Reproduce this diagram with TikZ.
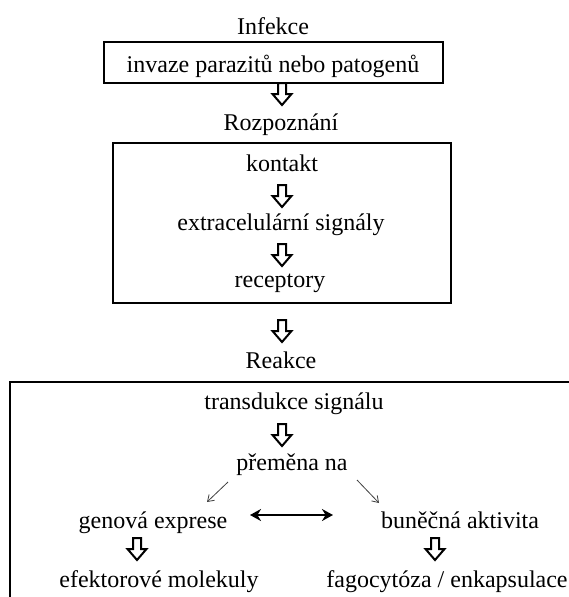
\documentclass[tikz,border=0pt]{standalone}
\usepackage{fontspec}
\setmainfont{Liberation Serif}
\usetikzlibrary{arrows.meta}
\begin{document}
\begin{tikzpicture}[x=1pt,y=-1pt,
  lbl/.style={font=\fontsize{24}{28}\selectfont, inner sep=0pt, anchor=base},
  frame/.style={draw, line width=2.6pt, inner sep=0pt},
  hollow/.pic={\draw[line width=2pt, line join=miter] (-4,0) -- (-4,11) -- (-9.5,11) -- (0,22) -- (9.5,11) -- (4,11) -- (4,0) -- cycle;},
  thinarr/.style={line width=0.8pt, draw=black!75, -{Straight Barb[length=6pt,width=8pt]}},
  dbl/.style={line width=2.6pt, {Stealth[length=11pt,width=12pt]}-{Stealth[length=11pt,width=12pt]}}]
\useasboundingbox (0,0) rectangle (568,597);
% box 1
\node[frame, minimum width=339pt, minimum height=41pt] (box1) at (273.5,62.5) {};
\node[lbl] (inf) at (273,34) {Infekce};
\node[lbl] (inv) at (273,72) {invaze parazitů nebo patogenů};
\pic at (282,83) {hollow};
\node[lbl] (roz) at (281,130) {Rozpoznání};
% box 2
\node[frame, minimum width=338pt, minimum height=160pt] (box2) at (282,223) {};
\node[lbl] (kon) at (282,171) {kontakt};
\pic at (282,185) {hollow};
\node[lbl] (ext) at (281,230) {extracelulární signály};
\pic at (282,244) {hollow};
\node[lbl] (rec) at (280,287) {receptory};
\pic at (282,320) {hollow};
\node[lbl] (rea) at (281,368) {Reakce};
% box 3
\coordinate (b3r) at (575,382);
\coordinate (b3c) at (10,382);
\coordinate (b3b) at (10,605);
\draw[line width=2.6pt] (b3r) -- (b3c) -- (b3b);
\node[lbl] (tra) at (294,409) {transdukce signálu};
\pic at (282,424) {hollow};
\node[lbl] (pre) at (292,470) {přeměna na};
\coordinate (l1) at (228,482);
\coordinate (l2) at (207,502);
\coordinate (r1) at (357,480);
\coordinate (r2) at (379,503);
\draw[thinarr] (l1) -- (l2);
\draw[thinarr] (r1) -- (r2);
\node[lbl] (gen) at (153,528) {genová exprese};
\node[lbl] (bun) at (460,528) {buněčná aktivita};
\coordinate (dl) at (250,515);
\coordinate (dr) at (333,515);
\draw[dbl] (dl) -- (dr);
\pic at (137,538) {hollow};
\pic at (435,538) {hollow};
\node[lbl] (efe) at (159,587) {efektorové molekuly};
\node[lbl] (fag) at (447,587) {fagocytóza / enkapsulace};
\end{tikzpicture}
\end{document}
